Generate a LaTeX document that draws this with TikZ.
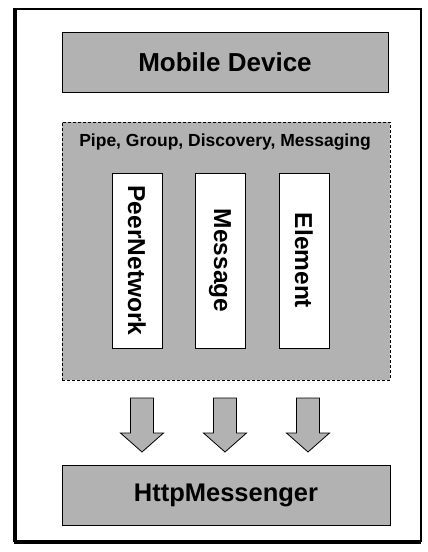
\documentclass[tikz,border=0pt]{standalone}
\usepackage{fontspec}
\setmainfont{Liberation Sans}
\begin{document}
\begin{tikzpicture}[x=1pt,y=-1pt,
  graybox/.style={draw=black, line width=1pt, fill=black!30, inner sep=0pt},
  whitebox/.style={draw=black, line width=1pt, fill=white, inner sep=0pt, minimum width=50pt, minimum height=175pt},
  vlabel/.style={rotate=-90, font=\fontsize{24.5}{24.5}\selectfont\bfseries},
  blockarrow/.style={draw=black, line width=0.8pt, fill=black!30, line join=miter}]
\useasboundingbox (0,0) rectangle (428,552);
% outer frame
\draw[line width=1.2pt] (14,9) rectangle (421,541);
\draw[line width=3pt] (15,9) -- (15,542) -- (421,542);
% Mobile Device
\node[graybox, minimum width=326pt, minimum height=60pt, font=\fontsize{26}{26}\selectfont\bfseries] (mobile) at (225,62) {Mobile Device};
% dashed container
\node[graybox, dash pattern=on 3pt off 2pt, minimum width=328pt, minimum height=258pt] (core) at (226,251) {};
\node[font=\fontsize{17.5}{17.5}\selectfont\bfseries] (coretitle) at (225,142) {Pipe, Group, Discovery, Messaging};
% inner boxes
\node[whitebox] (peer) at (137,260.5) {};
\node[vlabel] (peerlbl) at (peer.center) {PeerNetwork};
\node[whitebox] (msg) at (220,260.5) {};
\node[vlabel] (msglbl) at (msg.center) {Message};
\node[whitebox] (elem) at (304,260.5) {};
\node[vlabel] (elemlbl) at (elem.center) {Element};
% HttpMessenger
\node[graybox, minimum width=328pt, minimum height=60pt, font=\fontsize{25.5}{25.5}\selectfont\bfseries] (http) at (226,495) {HttpMessenger};
% block arrows
\foreach \cx/\nm in {142/a1,225/a2,308/a3}{
  \coordinate (\nm) at (\cx,398);
  \draw[blockarrow] ([xshift=-11.5pt]\nm) -- ++(0,35) -- ++(-10,0) -- ++(21.5,19) -- ++(21.5,-19) -- ++(-10,0) -- ++(0,-35) -- cycle;
}
\end{tikzpicture}
\end{document}
